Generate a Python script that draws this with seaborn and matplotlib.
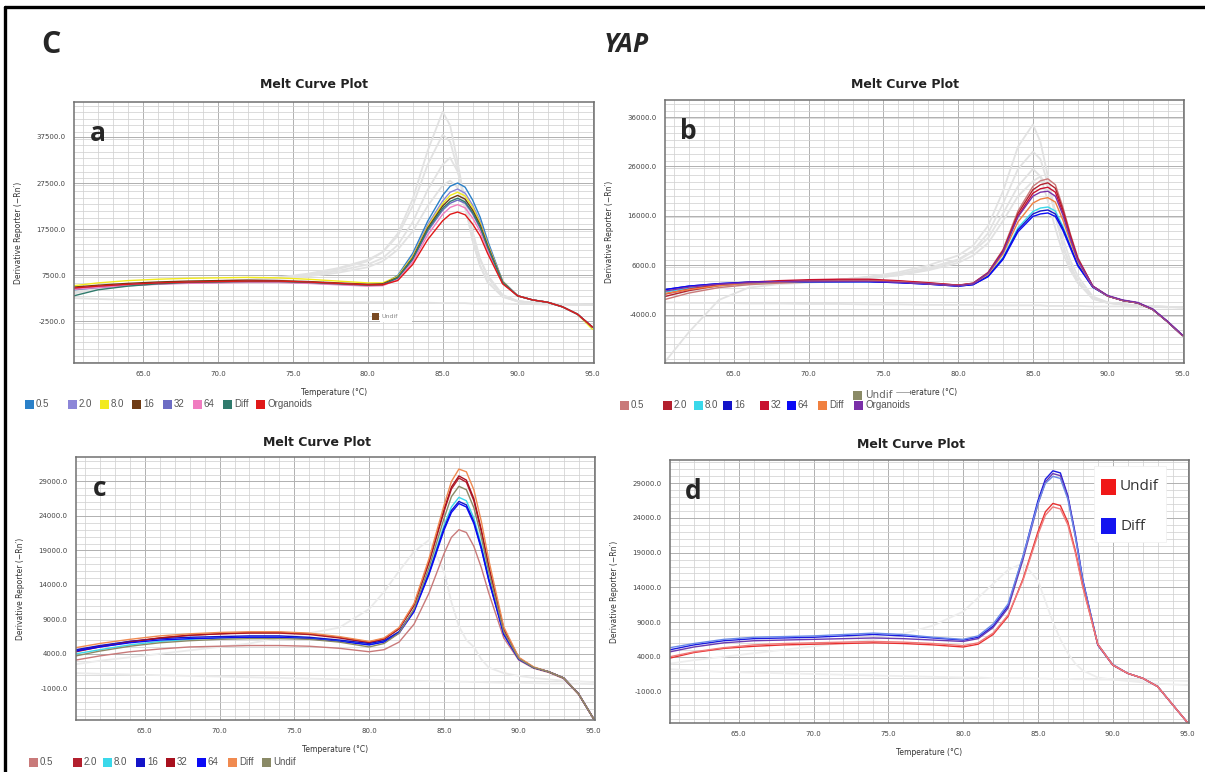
import pandas as pd
import matplotlib
matplotlib.use("Agg")
import matplotlib.pyplot as plt
from matplotlib.patches import Rectangle
from matplotlib.lines import Line2D
from matplotlib.ticker import MultipleLocator
import seaborn as sns

W, H = 1205, 772

# temperature points shared by every curve (deg C)
temps = [60.4, 62, 64, 66, 68, 70, 72, 74, 76, 78,
         80, 81, 82, 83, 84, 85, 85.5, 86, 86.5, 87,
         87.5, 88, 89, 90, 91, 92, 93, 94, 95]

# ---- panel a ----
a_names = ["0.5", "2.0", "8.0", "16", "32", "64", "Diff", "Organoids"]
a_colors = ["#2a80c8", "#8c86d8", "#f2ea1c", "#6e3b14", "#6c6cc4", "#f07cc0", "#2f7a6c", "#e01818"]
a_05 = [4300, 4800, 5300, 5600, 5800, 5900, 6000, 6000, 5800, 5500,
        5300, 5500, 7400, 12200, 19200, 24800, 26800, 27500, 26600, 23800,
        20100, 15000, 6200, 3000, 2100, 1600, 600, -1000, -3900]
a_2 = [4500, 5000, 5400, 5700, 5900, 6000, 6100, 6100, 5900, 5600,
       5300, 5400, 7100, 11700, 18400, 23600, 25500, 26200, 25300, 22700,
       19200, 14500, 6100, 3000, 2100, 1600, 600, -1000, -3800]
a_8 = [5200, 5800, 6300, 6600, 6800, 6900, 7000, 6900, 6600, 6200,
       5800, 5800, 7200, 11500, 18000, 23000, 24800, 25500, 24700, 22200,
       18800, 14200, 6100, 3000, 2100, 1600, 600, -1000, -4300]
a_16 = [4900, 5300, 5700, 6000, 6200, 6300, 6400, 6300, 6100, 5800,
        5500, 5600, 7000, 11200, 17700, 22500, 24100, 24800, 24000, 21600,
        18400, 13900, 6000, 3000, 2100, 1600, 600, -1000, -3800]
a_32 = [4600, 5000, 5400, 5700, 5900, 6000, 6100, 6100, 5900, 5600,
        5300, 5400, 6800, 10800, 17000, 21600, 23100, 23800, 23100, 20800,
        17700, 13400, 5900, 3000, 2100, 1600, 600, -1000, -3800]
a_64 = [4400, 4800, 5200, 5500, 5700, 5800, 5900, 5900, 5700, 5400,
        5100, 5200, 6500, 10300, 16200, 20700, 22200, 22800, 22100, 19900,
        17000, 12900, 5800, 3000, 2100, 1600, 600, -1000, -3800]
a_diff = [3000, 4300, 5100, 5600, 5900, 6000, 6100, 6100, 5900, 5600,
          5300, 5400, 6900, 11000, 17400, 22000, 23500, 24200, 23400, 21100,
          18000, 13600, 5900, 3000, 2100, 1600, 600, -1000, -3800]
a_org = [4700, 5100, 5500, 5800, 6000, 6100, 6200, 6200, 6000, 5700,
         5400, 5400, 6300, 9800, 15200, 19300, 20700, 21200, 20600, 18600,
         16000, 12200, 5600, 3000, 2100, 1600, 600, -1000, -3800]
a_gray1 = [3500, 4500, 5200, 5600, 5900, 6100, 6400, 6900, 7600, 8800,
           10500, 12500, 16500, 24000, 34500, 43000, 40000, 32000, 23000, 15000,
           9500, 6000, 2800, 1800, 1500, 1300, 1200, 1100, 1000]
a_gray2 = [3800, 4700, 5300, 5700, 6000, 6200, 6500, 7000, 7800, 9000,
           10800, 12500, 16000, 22500, 31500, 38000, 36500, 30500, 22500, 15000,
           9500, 6000, 2800, 1800, 1500, 1300, 1200, 1100, 1000]
a_gray3 = [4200, 4900, 5400, 5800, 6000, 6200, 6400, 6800, 7400, 8400,
           9800, 11200, 14000, 19000, 26000, 31500, 33000, 30000, 24000, 17000,
           11000, 7000, 3000, 1800, 1500, 1300, 1200, 1100, 1000]
a_gray4 = [4000, 4800, 5300, 5700, 5900, 6100, 6300, 6600, 7200, 8000,
           9200, 10500, 13000, 17000, 22500, 27000, 28000, 26500, 22000, 16000,
           11000, 7500, 3200, 1900, 1500, 1300, 1200, 1100, 1000]
a_gray5 = [2500, 2300, 2100, 2000, 1900, 1800, 1800, 1700, 1700, 1600,
           1600, 1600, 1500, 1500, 1500, 1400, 1400, 1400, 1400, 1300,
           1300, 1300, 1300, 1200, 1200, 1100, 1100, 1000, 1000]
a_yticks = [-2500, 7500, 17500, 27500, 37500]

# ---- panel b ----
b_names = ["0.5", "2.0", "8.0", "16", "32", "64", "Diff", "Organoids"]
b_colors = ["#c97a7a", "#b3202e", "#3ad8ea", "#1414c8", "#c8102e", "#0a0af5", "#f08040", "#7a2fa8"]
b_05 = [-900, 400, 1500, 2100, 2400, 2600, 2700, 2800, 2600, 2300,
        1900, 2400, 4600, 9200, 17000, 22000, 23100, 23500, 22300, 17800,
        12400, 7600, 1800, -200, -1100, -1600, -2900, -5400, -8200]
b_2 = [-300, 900, 1900, 2400, 2700, 2900, 3000, 3000, 2800, 2400,
       2000, 2400, 4500, 9000, 16500, 21300, 22300, 22700, 21600, 17300,
       12100, 7400, 1800, -200, -1100, -1600, -2900, -5400, -8200]
b_8 = [600, 1400, 2000, 2400, 2600, 2700, 2700, 2700, 2600, 2300,
       1900, 2200, 3900, 7600, 13600, 16900, 17600, 17800, 17000, 13900,
       10000, 6300, 1600, -200, -1100, -1600, -2900, -5400, -8200]
b_16 = [1100, 1800, 2300, 2600, 2700, 2700, 2700, 2700, 2500, 2200,
        1800, 2100, 3800, 7400, 13200, 16400, 17000, 17200, 16400, 13500,
        9800, 6100, 1600, -200, -1100, -1600, -2900, -5400, -8200]
b_32 = [200, 1200, 2100, 2600, 2900, 3100, 3200, 3200, 2900, 2500,
        2000, 2300, 4400, 8800, 16000, 20600, 21500, 21800, 20800, 16700,
        11800, 7200, 1800, -200, -1100, -1600, -2900, -5400, -8200]
b_64 = [1100, 1800, 2300, 2600, 2700, 2700, 2700, 2700, 2500, 2200,
        1800, 2100, 3700, 7200, 12800, 15900, 16400, 16600, 15900, 13100,
        9500, 5900, 1600, -200, -1100, -1600, -2900, -5400, -8200]
b_diff = [300, 1100, 1900, 2400, 2600, 2800, 2900, 2900, 2700, 2300,
          1900, 2300, 4200, 8300, 14800, 18600, 19400, 19700, 18800, 15200,
          10800, 6800, 1700, -200, -1100, -1600, -2900, -5400, -8200]
b_org = [800, 1600, 2200, 2500, 2700, 2800, 2800, 2800, 2600, 2300,
         1900, 2300, 4400, 8700, 15800, 20000, 20800, 21000, 20000, 16200,
         11400, 7000, 1800, -100, -1000, -1500, -2800, -5300, -8100]
b_gray1 = [-200, 800, 1600, 2100, 2400, 2700, 3100, 3700, 4600, 6000,
           8000, 10000, 14000, 21000, 30000, 34500, 31000, 24000, 16500, 10000,
           5500, 2500, -800, -1600, -1900, -2100, -2300, -2400, -2500]
b_gray2 = [0, 900, 1700, 2200, 2500, 2800, 3100, 3600, 4300, 5500,
           7200, 9000, 12500, 18500, 25500, 29000, 27500, 22500, 16000, 10000,
           6000, 3000, -600, -1600, -1900, -2100, -2300, -2400, -2500]
b_gray3 = [300, 1100, 1800, 2300, 2600, 2800, 3000, 3400, 4000, 5000,
           6500, 8000, 10500, 15000, 20000, 23000, 24000, 22000, 17000, 11500,
           7000, 3800, -300, -1500, -1900, -2100, -2300, -2400, -2500]
b_gray4 = [-13500, -7500, -1000, 1500, 2200, 2500, 2800, 3300, 4000, 5200,
           7000, 8800, 11500, 16500, 22000, 25500, 24000, 19000, 13500, 8500,
           5000, 2500, -500, -1500, -1900, -2100, -2300, -2400, -2500]
b_gray5 = [-1500, -1600, -1600, -1700, -1700, -1800, -1800, -1900, -1900, -2000,
           -2000, -2000, -2100, -2100, -2100, -2100, -2100, -2200, -2200, -2200,
           -2200, -2200, -2300, -2300, -2300, -2400, -2400, -2500, -2500]
b_yticks = [-4000, 6000, 16000, 26000, 36000]

# ---- panel c ----
c_names = ["0.5", "2.0", "8.0", "16", "32", "64", "Diff", "Undif"]
c_colors = ["#c97a7a", "#b3202e", "#3ad8ea", "#1414c8", "#a8101e", "#0a0af5", "#f08a50", "#8a8a66"]
c_05 = [3100, 3700, 4300, 4700, 5000, 5100, 5200, 5200, 5100, 4800,
        4300, 4600, 5700, 8300, 12800, 18500, 20900, 22000, 21600, 19600,
        16500, 12800, 6300, 3100, 1900, 1300, 400, -1900, -5400]
c_2 = [4500, 5100, 5800, 6300, 6700, 6900, 7000, 7000, 6800, 6300,
       5600, 6100, 7600, 11000, 17200, 24600, 27900, 29500, 28900, 26200,
       21700, 16500, 7500, 3400, 2000, 1400, 500, -1800, -5400]
c_8 = [4000, 4600, 5300, 5800, 6100, 6300, 6400, 6400, 6300, 5900,
       5300, 5800, 7200, 10400, 15900, 22600, 25300, 26700, 26200, 23700,
       19800, 15100, 7000, 3300, 2000, 1400, 500, -1800, -5400]
c_16 = [4600, 5200, 5800, 6200, 6400, 6500, 6600, 6600, 6400, 6000,
        5500, 5900, 7200, 10300, 15700, 22200, 24800, 26100, 25600, 23200,
        19400, 14800, 6900, 3300, 2000, 1400, 500, -1800, -5400]
c_32 = [4300, 5000, 5700, 6300, 6700, 6900, 7100, 7100, 6900, 6400,
        5700, 6200, 7700, 11100, 17400, 24900, 28200, 29800, 29200, 26500,
        22000, 16700, 7600, 3400, 2000, 1400, 500, -1800, -5400]
c_64 = [4400, 5000, 5600, 6000, 6200, 6300, 6400, 6400, 6200, 5800,
        5300, 5700, 7000, 10100, 15500, 21900, 24500, 25800, 25300, 22900,
        19200, 14600, 6800, 3200, 2000, 1400, 500, -1800, -5400]
c_diff = [4900, 5500, 6100, 6600, 6900, 7100, 7200, 7200, 7000, 6500,
          5800, 6300, 7800, 11300, 17800, 25500, 29000, 30800, 30400, 27800,
          23200, 17600, 7900, 3500, 2100, 1400, 500, -1800, -5400]
c_undif = [3700, 4400, 5100, 5600, 5900, 6100, 6200, 6200, 6100, 5700,
           5000, 5500, 7000, 10500, 16500, 23600, 26800, 28300, 27800, 25200,
           20900, 15900, 7200, 3300, 2000, 1400, 500, -1800, -5400]
c_gray1 = [2500, 3000, 3500, 4000, 4500, 5000, 5500, 6300, 7000, 7800,
           10500, 13000, 16000, 18800, 20500, 16000, 11500, 8000, 6000, 5000,
           3200, 2000, 1200, 800, 500, 300, 100, 0, -100]
c_gray2 = [1200, 1100, 1000, 900, 800, 700, 600, 500, 400, 300,
           250, 200, 150, 100, 50, 0, 0, -50, -50, -100,
           -100, -150, -200, -200, -250, -300, -300, -350, -400]
c_yticks = [-1000, 4000, 9000, 14000, 19000, 24000, 29000]

# ---- panel d ----
d_names = ["Diff 1", "Diff 2", "Diff 3", "Undif 1", "Undif 2"]
d_colors = ["#1a1ae0", "#6a3ab0", "#6a8ae8", "#e83030", "#f07a7a"]
d_diff1 = [5000, 5700, 6300, 6600, 6700, 6800, 7000, 7200, 7000, 6700,
           6400, 6800, 8400, 11300, 18400, 26500, 29600, 30800, 30500, 27200,
           21700, 15100, 5700, 2800, 1600, 900, -300, -2900, -5500]
d_diff2 = [4700, 5400, 6000, 6300, 6400, 6500, 6600, 6700, 6600, 6400,
           6200, 6600, 8200, 11000, 18000, 26000, 29200, 30400, 30100, 27000,
           21400, 14900, 5700, 2800, 1600, 900, -300, -2900, -5500]
d_diff3 = [5300, 5900, 6500, 6800, 6900, 7000, 7200, 7400, 7200, 6800,
           6500, 7000, 8700, 11600, 18500, 26100, 29000, 30000, 29700, 26700,
           21300, 14900, 5800, 2900, 1600, 900, -300, -2900, -5500]
d_undif1 = [3800, 4600, 5200, 5500, 5700, 5800, 5900, 6000, 5900, 5700,
            5400, 5800, 7200, 9800, 15200, 22000, 24900, 26100, 25800, 23400,
            19300, 14200, 5800, 2800, 1600, 900, -300, -2900, -5500]
d_undif2 = [4000, 4700, 5300, 5700, 5900, 6000, 6100, 6200, 6100, 5900,
            5600, 6000, 7400, 10000, 15000, 21600, 24400, 25600, 25300, 23000,
            19000, 14000, 5800, 2800, 1600, 900, -300, -2900, -5500]
d_gray1 = [3000, 3500, 4000, 4500, 5000, 5500, 6000, 6500, 7300, 8500,
           10500, 12500, 14500, 16500, 17500, 15000, 12000, 9000, 6500, 4500,
           3000, 2000, 1000, 700, 500, 300, 100, 0, -100]
d_gray2 = [2200, 2000, 1800, 1700, 1600, 1500, 1400, 1300, 1200, 1100,
           1000, 1000, 900, 900, 900, 850, 850, 800, 800, 800,
           750, 750, 700, 700, 650, 600, 600, 550, 500]
d_yticks = [-1000, 4000, 9000, 14000, 19000, 24000, 29000]

d_key_names = ["Undif", "Diff"]
d_key_colors = ["#f01818", "#1414f0"]


def long_frame(names, curves):
    rows = []
    for n, c in zip(names, curves):
        for t, v in zip(temps, c):
            rows.append((n, t, v))
    return pd.DataFrame(rows, columns=["sample", "temp", "value"])


def add_axes_px(left, top, right, bottom):
    return fig.add_axes([left / W, 1 - bottom / H, (right - left) / W, (bottom - top) / H])


def draw_panel(ax, names, colors, curves, grays, ylim, yticks, yminor, letter, gray="#e2e2e2"):
    gdf = long_frame(["g%d" % i for i in range(len(grays))], grays)
    sns.lineplot(data=gdf, x="temp", y="value", units="sample", estimator=None,
                 color=gray, lw=1.3, sort=False, ax=ax)
    df = long_frame(names, curves)
    sns.lineplot(data=df, x="temp", y="value", hue="sample", hue_order=names,
                 palette=colors, estimator=None, sort=False, lw=1.0,
                 legend=False, ax=ax)
    ax.set_xlim(60.4, 95.1)
    ax.set_ylim(*ylim)
    ax.set_xticks(range(65, 96, 5))
    ax.set_xticklabels(["%.1f" % t for t in range(65, 96, 5)], fontsize=5)
    ax.set_yticks(yticks)
    ax.set_yticklabels(["%.1f" % v for v in yticks], fontsize=5)
    ax.xaxis.set_minor_locator(MultipleLocator(1))
    ax.yaxis.set_minor_locator(MultipleLocator(yminor))
    ax.grid(which="major", color="#b0b0b0", lw=0.7)
    ax.grid(which="minor", color="#d2d2d2", lw=0.55)
    ax.set_axisbelow(True)
    ax.tick_params(which="both", length=0, pad=6, colors="#444444")
    for s in ax.spines.values():
        s.set_color("#707070")
        s.set_linewidth(1.1)
    ax.set_xlabel("Temperature (°C)", fontsize=5.5, color="#333333")
    ax.set_ylabel("Derivative Reporter (\u2212Rn\u2032)", fontsize=5.5, color="#333333")
    ax.xaxis.set_label_coords(0.5, -0.095)
    ax.yaxis.set_label_coords(-0.098, 0.5)
    ax.text(0.045, 0.88, letter, transform=ax.transAxes, fontsize=19,
            fontweight="bold", family="Open Sans", ha="center", va="center")


def key_row(names, colors, xs, y, size=9, fs=7):
    for n, c, x in zip(names, colors, xs):
        fig.add_artist(Rectangle((x / W, 1 - (y + size / 2) / H), size / W, size / H,
                                 transform=fig.transFigure, color=c, lw=0))
        fig.text((x + size + 2) / W, 1 - y / H, n, fontsize=fs, color="#555555",
                 va="center", ha="left", family="Liberation Sans")


sns.set_style("white")
fig = plt.figure(figsize=(W / 100, H / 100), dpi=100)

ax_a = add_axes_px(74, 102, 594, 363)
draw_panel(ax_a, a_names, a_colors, [a_05, a_2, a_8, a_16, a_32, a_64, a_diff, a_org],
           [a_gray1, a_gray2, a_gray3, a_gray4, a_gray5],
           (-11600, 45100), a_yticks, 10000 / 7, "a")

ax_b = add_axes_px(665, 100, 1184, 363)
draw_panel(ax_b, b_names, b_colors, [b_05, b_2, b_8, b_16, b_32, b_64, b_diff, b_org],
           [b_gray1, b_gray2, b_gray3, b_gray4, b_gray5],
           (-13750, 39450), b_yticks, 10000 / 7, "b")

ax_c = add_axes_px(76, 457, 595, 720)
draw_panel(ax_c, c_names, c_colors, [c_05, c_2, c_8, c_16, c_32, c_64, c_diff, c_undif],
           [c_gray1, c_gray2], (-5600, 32550), c_yticks, 1000, "c", gray="#ebebeb")

ax_d = add_axes_px(670, 460, 1189, 723)
draw_panel(ax_d, d_names, d_colors, [d_diff1, d_diff2, d_diff3, d_undif1, d_undif2],
           [d_gray1, d_gray2], (-5560, 32360), d_yticks, 1000, "d", gray="#eeeeee")

# titles
for x, y in [(314, 85), (905, 85), (317, 442), (911, 444)]:
    fig.text(x / W, 1 - y / H, "Melt Curve Plot", fontsize=9, fontweight="bold",
             ha="center", va="center", color="#222222")

# legend rows under the plots
key_row(a_names, a_colors, [25, 68, 100, 132, 163, 193, 223, 256], 404)
key_row(b_names, b_colors, [620, 663, 694, 723, 760, 787, 818, 854], 405)
key_row(c_names, c_colors, [29, 73, 103, 136, 166, 197, 228, 262], 762)

# stray "Undif" tag in panel a
fig.add_artist(Rectangle((380 / W, 1 - 322 / H), 32 / W, 12 / H, transform=fig.transFigure,
                         color="white", lw=0))
fig.add_artist(Rectangle((372 / W, 1 - 320 / H), 7 / W, 7 / H, transform=fig.transFigure,
                         color="#7a4a22", lw=0))
fig.text(381 / W, 1 - 316 / H, "Undif", fontsize=4.5, color="#888888", va="center")

# overlay "Undif" tag in panel b legend area
fig.add_artist(Rectangle((848 / W, 1 - 401 / H), 62 / W, 15 / H, transform=fig.transFigure,
                         color="white", lw=0))
fig.add_artist(Line2D([896 / W, 910 / W], [1 - 392 / H, 1 - 392 / H], transform=fig.transFigure,
                      color="#999999", lw=0.6))
fig.add_artist(Rectangle((853 / W, 1 - 400 / H), 9 / W, 9 / H, transform=fig.transFigure,
                         color="#8a8a66", lw=0))
fig.text(865 / W, 1 - 395 / H, "Undif", fontsize=7.5, color="#666666", va="center")

# key box in panel d
fig.add_artist(Rectangle((1094 / W, 1 - 542 / H), 72 / W, 76 / H, transform=fig.transFigure,
                         facecolor="white", edgecolor="#eeeeee", lw=0.5))
for n, c, yy in zip(d_key_names, d_key_colors, [487, 526]):
    fig.add_artist(Rectangle((1101 / W, 1 - (yy + 8) / H), 15 / W, 16 / H,
                             transform=fig.transFigure, color=c, lw=0))
    fig.text(1120 / W, 1 - yy / H, n, fontsize=11, family="Open Sans",
             color="#333333", va="center")

# figure letter and gene name
fig.text(51 / W, 1 - 45 / H, "C", fontsize=22, fontweight="bold", family="Open Sans",
         ha="center", va="center")
fig.text(626 / W, 1 - 45 / H, "YAP", fontsize=19, fontweight="bold", style="italic",
         family="Open Sans", ha="center", va="center")

# outer frame (left and top)
fig.add_artist(Line2D([5 / W, 5 / W], [0, 1 - 7 / H], transform=fig.transFigure, color="black", lw=2.4))
fig.add_artist(Line2D([5 / W, 1], [1 - 7 / H, 1 - 7 / H], transform=fig.transFigure, color="black", lw=2.4))

fig.savefig("out.png", dpi=100)
